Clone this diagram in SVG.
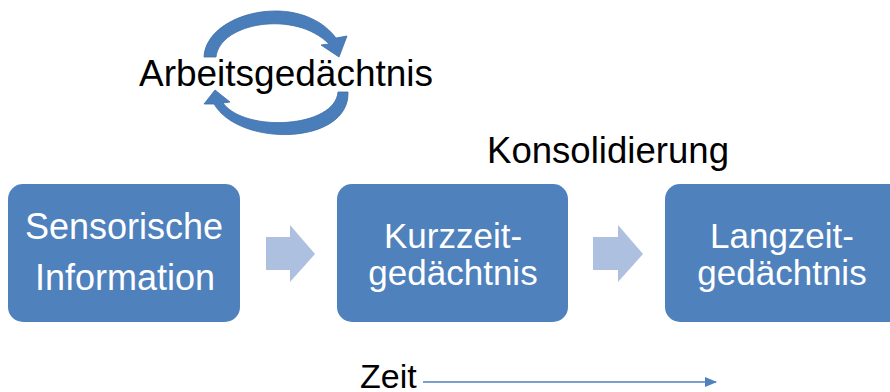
<svg xmlns="http://www.w3.org/2000/svg" width="890" height="392" viewBox="0 0 890 392">
<style>
.box{fill:#4f81bd;}
.bt{font-family:"Liberation Sans",Arial,sans-serif;font-size:35px;fill:#ffffff;text-anchor:middle;}
.kt{font-family:"Liberation Sans",Arial,sans-serif;font-size:36px;fill:#000000;}
.flow{fill:#adc0df;}
.circ{fill:#4a7ebb;stroke:#3d6ca6;stroke-width:0.8;}
</style>
<defs>
<marker id="ah" markerWidth="12" markerHeight="10" refX="11" refY="5" orient="auto" markerUnits="userSpaceOnUse">
<path d="M0,0 L12,5 L0,10 Z" fill="#4f81bd"/>
</marker>
</defs>
<rect width="890" height="392" fill="#ffffff"/>
<g id="arbeitsgedaechtnis">
<path class="circ" d="M204 57 C206 12,300 -10,336 38 L347 36 L339 57 L321 45 L329 44 C296 10,220 22,216 57 Z"/>
<path class="circ" d="M348 92 C350 145,240 148,214 104 L204 104 L215 90 L230 102 L223 103 C245 133,335 128,338 92 Z"/>
<text class="kt" x="139" y="86" textLength="294" lengthAdjust="spacingAndGlyphs">Arbeitsgedächtnis</text>
</g>
<g id="konsolidierung">
<text class="kt" x="487" y="163" textLength="242" lengthAdjust="spacingAndGlyphs">Konsolidierung</text>
</g>
<g id="sensorische">
<rect class="box" x="8" y="184" width="232" height="138" rx="15"/>
<text class="bt" x="124" y="239" style="font-size:36px">Sensorische</text>
<text class="bt" x="125" y="290" style="font-size:36px">Information</text>
</g>
<g id="kurzzeit">
<rect class="box" x="337" y="184" width="231" height="138" rx="15"/>
<text class="bt" x="453" y="248">Kurzzeit-</text>
<text class="bt" x="453" y="285">gedächtnis</text>
</g>
<g id="langzeit">
<rect class="box" x="665" y="184" width="240" height="138" rx="15"/>
<text class="bt" x="782" y="248">Langzeit-</text>
<text class="bt" x="782" y="285">gedächtnis</text>
</g>
<g id="zeit">
<text class="kt" x="360" y="388" style="font-size:34px">Zeit</text>
</g>
<g id="connectors">
<polygon class="flow" points="266,237 290,237 290,225 315,254 290,282 290,270 266,270"/>
<polygon class="flow" points="593,237 618,237 618,225 643,254 618,282 618,270 593,270"/>
<line x1="423" y1="382" x2="716" y2="382" stroke="#4f81bd" stroke-width="1.5" marker-end="url(#ah)"/>
</g>
</svg>
